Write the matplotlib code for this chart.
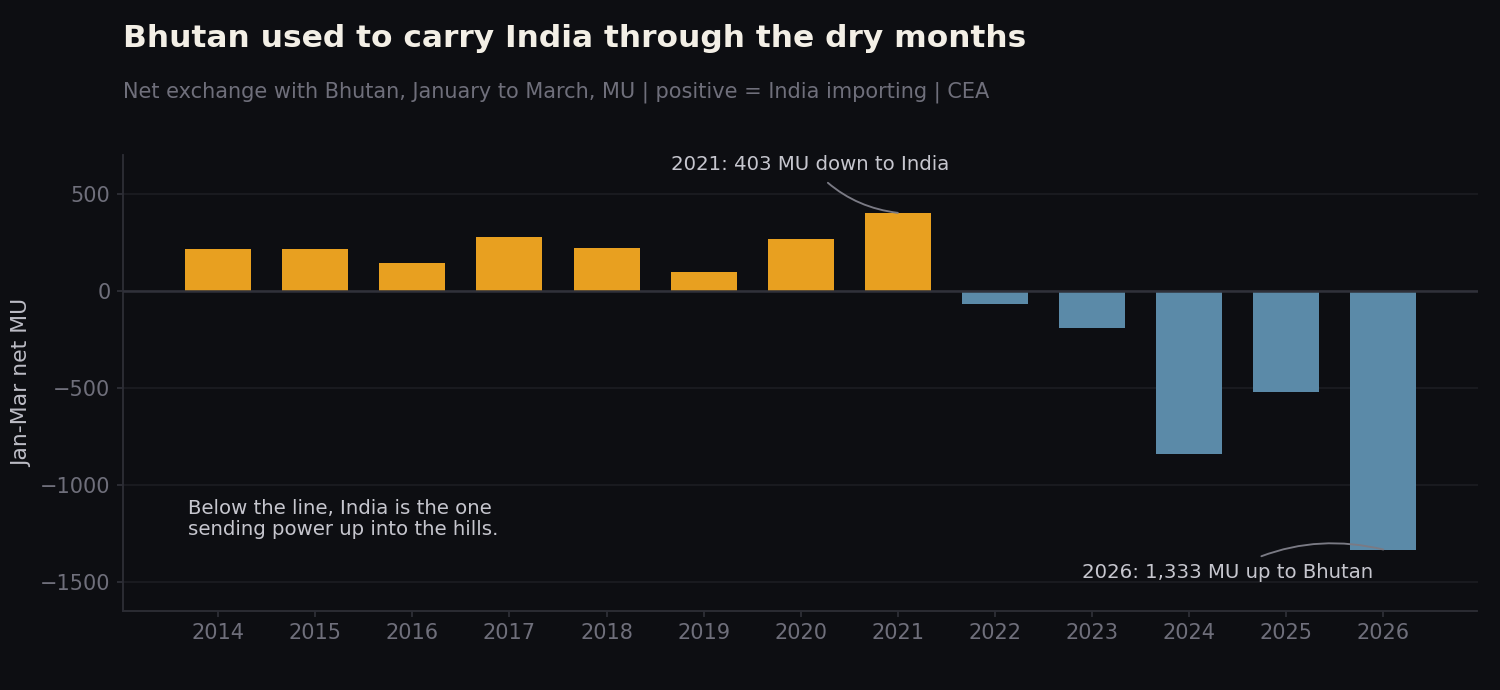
import matplotlib.pyplot as plt

# Jan-Mar net exchange with Bhutan (MU), positive = India importing
years = [2014, 2015, 2016, 2017, 2018, 2019, 2020, 2021, 2022, 2023, 2024, 2025, 2026]
net_mu = [216, 216, 143, 278, 222, 98, 268, 403, -66, -191, -841, -521, -1333]

BG = "#0d0e12"
ORANGE = "#e8a020"
BLUE = "#5b8aa8"
SPINE = "#2c2d35"
GRID = "#1c1d22"
TICK = "#6f6f7b"
NOTE = "#c6c6ce"

fig = plt.figure(figsize=(10, 4.6), dpi=150, facecolor=BG)
ax = fig.add_axes([0.082, 0.1145, 0.903, 0.6605])
ax.set_facecolor(BG)

colors = [ORANGE if v >= 0 else BLUE for v in net_mu]
ax.bar(years, net_mu, width=0.68, color=colors, zorder=3)
ax.axhline(0, color="#30313a", linewidth=1.2, zorder=4)

ax.set_xlim(2013.02, 2026.97)
ax.set_ylim(-1650, 700)
ax.set_xticks(years)
ax.set_yticks([500, 0, -500, -1000, -1500])
ax.grid(axis="y", color=GRID, linewidth=0.8, zorder=0)

for side in ["top", "right"]:
    ax.spines[side].set_visible(False)
for side in ["left", "bottom"]:
    ax.spines[side].set_color(SPINE)
    ax.spines[side].set_linewidth(0.9)
ax.tick_params(colors=SPINE, labelcolor=TICK, labelsize=10, length=3, width=0.9, pad=3)

ax.set_ylabel("Jan-Mar net MU", color="#bdbdc6", fontsize=10.5, labelpad=4)

fig.text(0.082, 0.932, "Bhutan used to carry India through the dry months",
         color="#f3efe6", fontsize=15, fontweight="bold", va="baseline")
fig.text(0.082, 0.858, "Net exchange with Bhutan, January to March, MU | positive = India importing | CEA",
         color=TICK, fontsize=10, va="baseline")

ax.annotate("2021: 403 MU down to India", xy=(2021, 403), xytext=(2020.1, 650),
            ha="center", va="center", color=NOTE, fontsize=9.5,
            arrowprops=dict(arrowstyle="-", color="#7a7a84", linewidth=0.9,
                            connectionstyle="arc3,rad=0.2", shrinkA=3, shrinkB=0))
ax.annotate("2026: 1,333 MU up to Bhutan", xy=(2026, -1333), xytext=(2024.4, -1450),
            ha="center", va="center", color=NOTE, fontsize=9.5,
            arrowprops=dict(arrowstyle="-", color="#7a7a84", linewidth=0.9,
                            connectionstyle="arc3,rad=-0.2", shrinkA=3, shrinkB=0))
ax.text(2013.69, -1070, "Below the line, India is the one\nsending power up into the hills.",
        ha="left", va="top", color=NOTE, fontsize=9.5, linespacing=1.15)

fig.savefig("out.png", facecolor=BG)
